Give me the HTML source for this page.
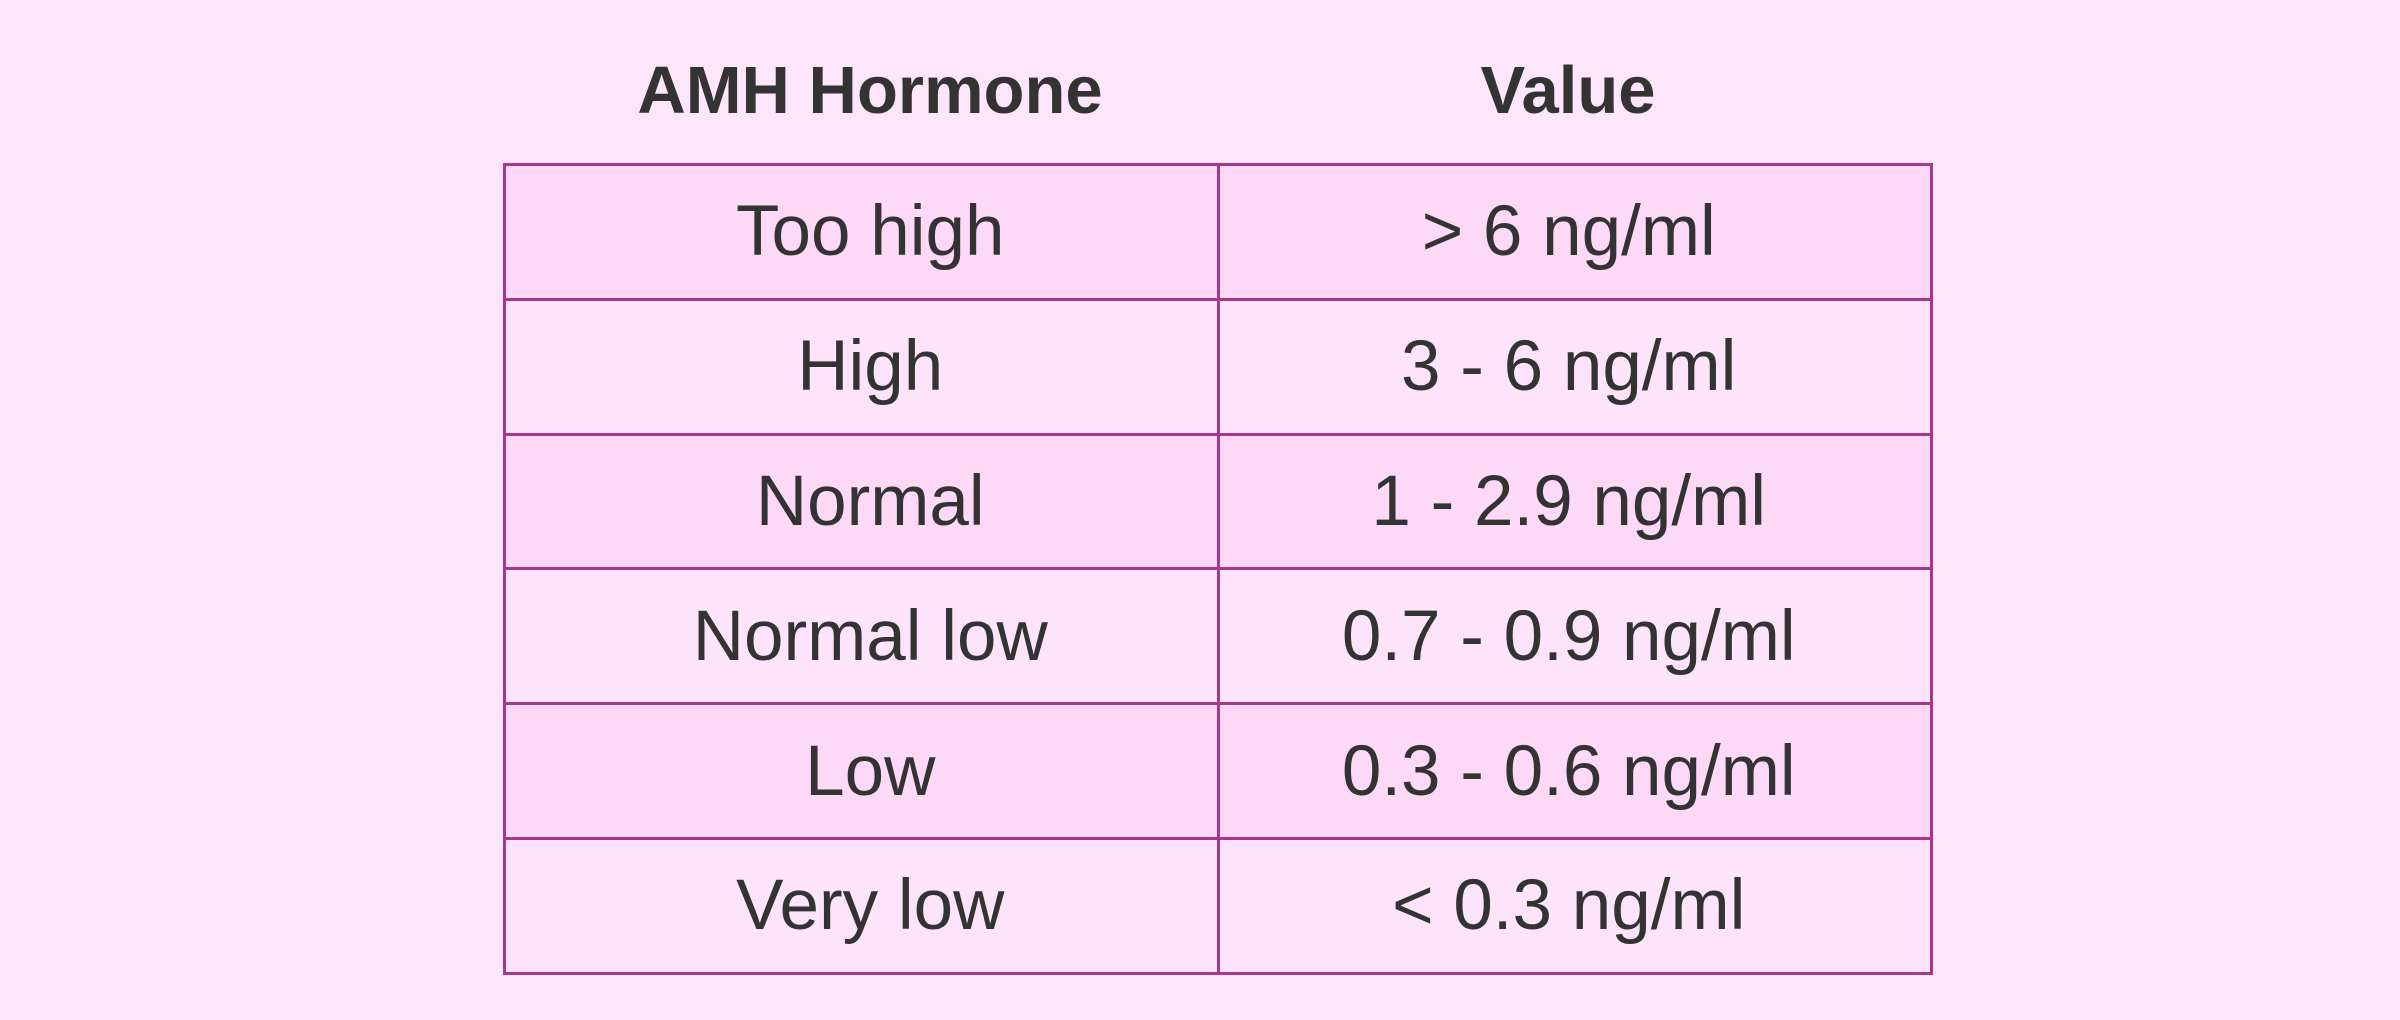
<!DOCTYPE html>
<html><head><meta charset="utf-8"><style>
html,body{margin:0;padding:0;width:2400px;height:1020px;background:#fde6fa;overflow:hidden;font-family:"Liberation Sans",sans-serif;color:#333;}
.h{position:absolute;top:51px;font-weight:bold;font-size:67px;text-align:center;line-height:80px;}
table{position:absolute;left:503px;top:163px;width:1430px;border-collapse:collapse;}
td{border:3.5px solid #a8378c;height:131.8px;padding:0;text-align:center;font-size:71px;line-height:1;width:50%;}
td:first-child{padding-left:18px;}
td:last-child{padding-right:12px;}
tr:nth-child(odd) td{background:#fdd8f7;}
tr:nth-child(even) td{background:#fde4fb;}
</style></head><body>
<div class="h" style="left:513px;width:714px;">AMH Hormone</div>
<div class="h" style="left:1211px;width:714px;">Value</div>
<table>
<tr><td>Too high</td><td>&gt; 6 ng/ml</td></tr>
<tr><td>High</td><td>3 - 6 ng/ml</td></tr>
<tr><td>Normal</td><td>1 - 2.9 ng/ml</td></tr>
<tr><td>Normal low</td><td>0.7 - 0.9 ng/ml</td></tr>
<tr><td>Low</td><td>0.3 - 0.6 ng/ml</td></tr>
<tr><td>Very low</td><td>&lt; 0.3 ng/ml</td></tr>
</table>
</body></html>
